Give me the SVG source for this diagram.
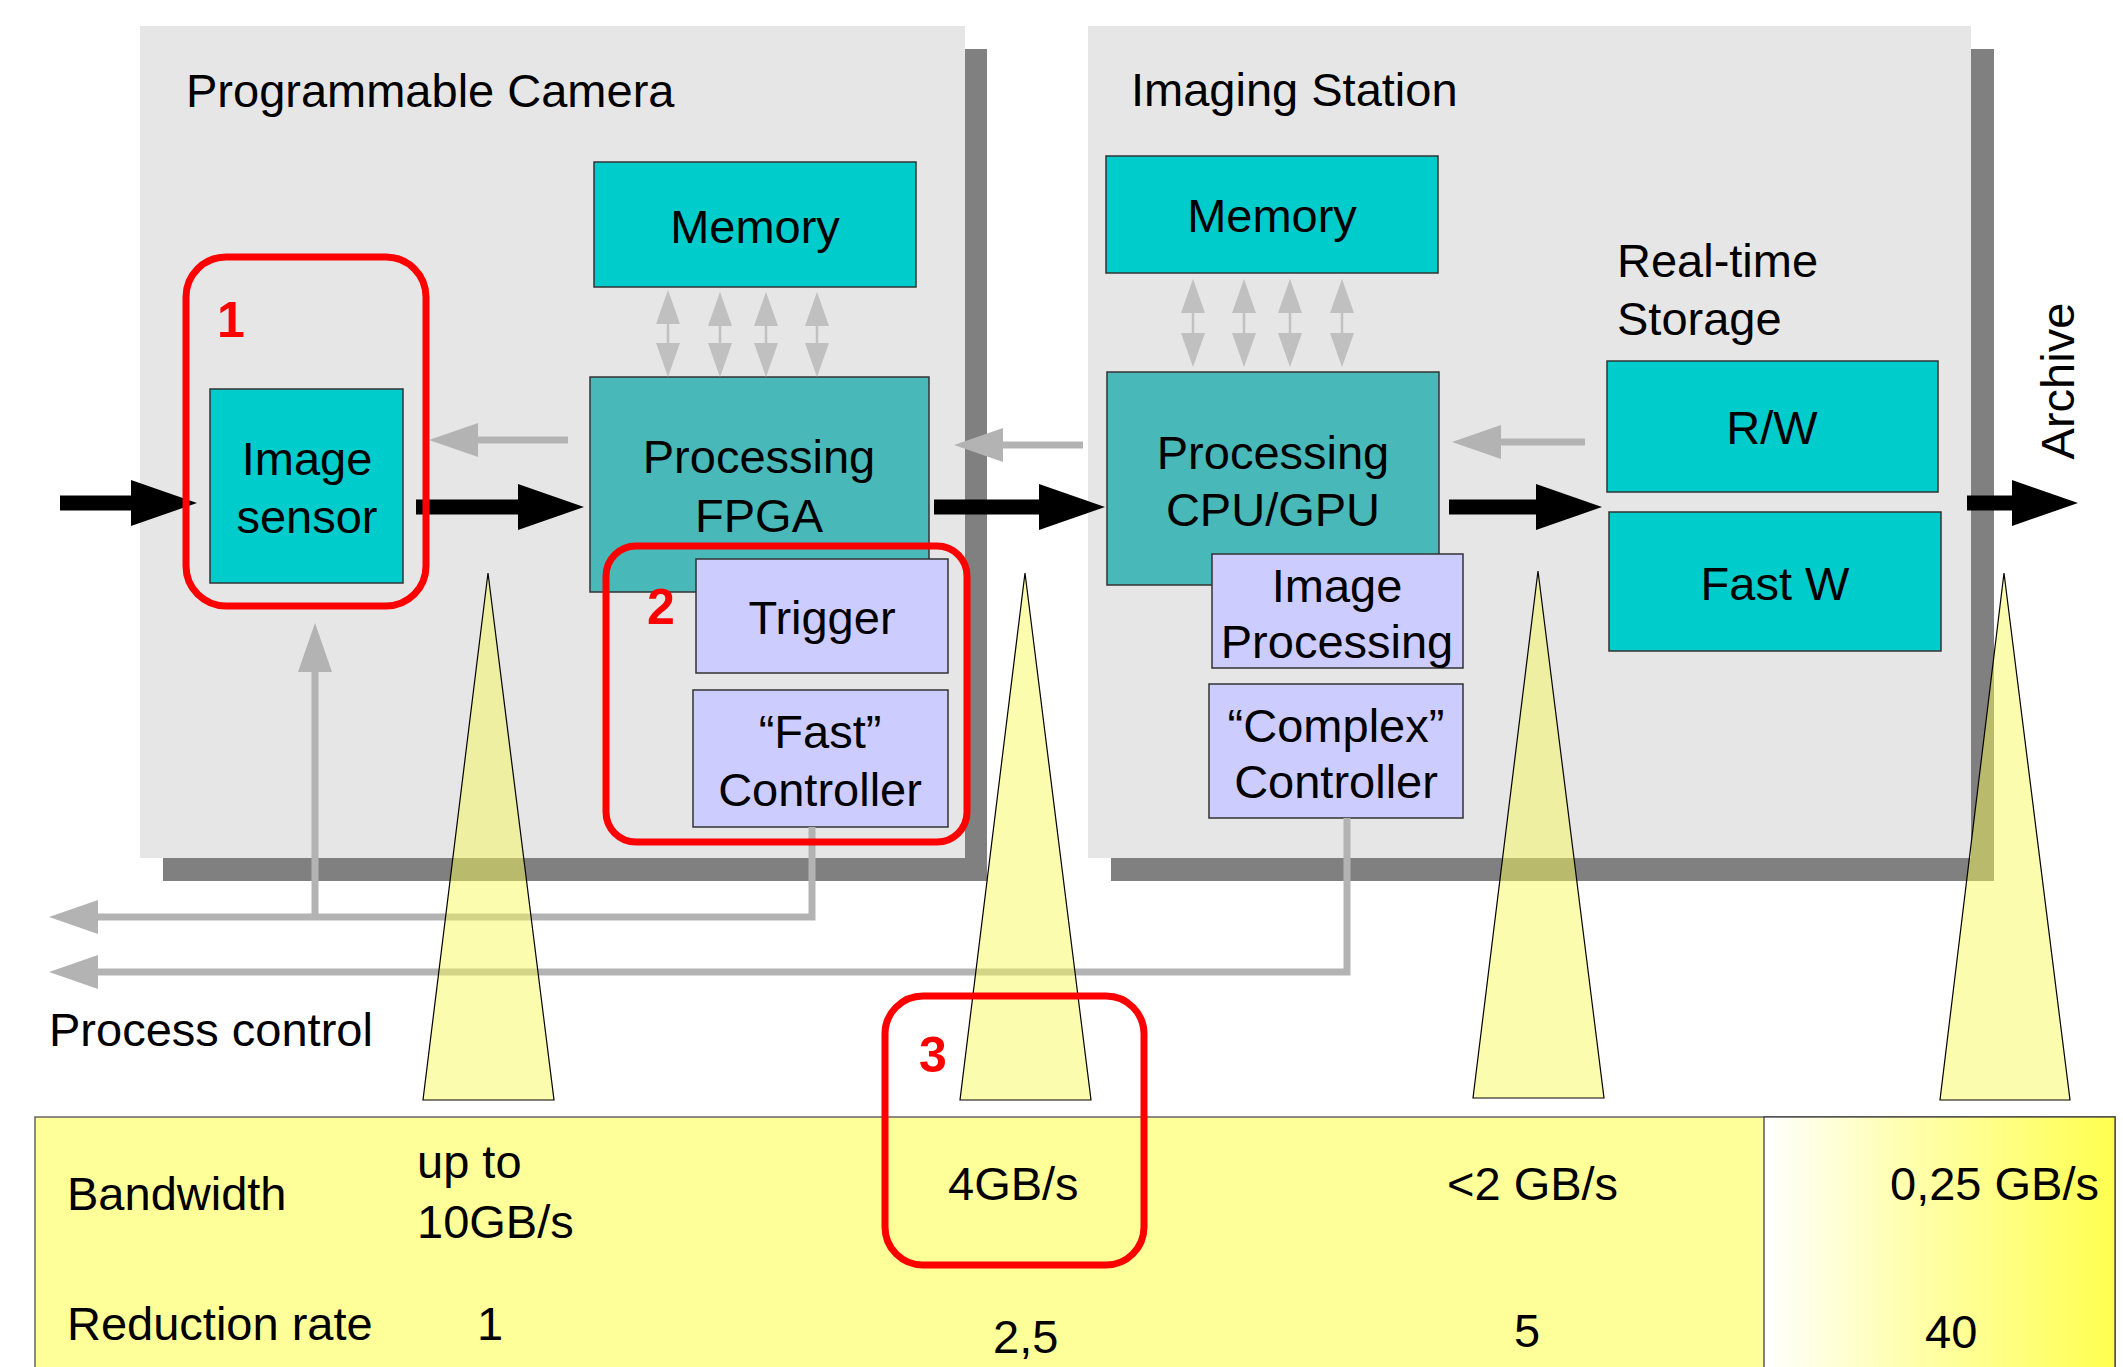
<svg xmlns="http://www.w3.org/2000/svg" width="2123" height="1367" viewBox="0 0 2123 1367">
<defs>
<style>
.t{font-family:"Liberation Sans",Arial,sans-serif;font-size:47px;fill:#000}
.c{text-anchor:middle}
.num{font-family:"Liberation Sans",Arial,sans-serif;font-weight:bold;font-size:50px;fill:#f00}
.cont{fill:#E6E6E6}
.shadow{fill:#808080}
.cyan{fill:#00CCCC;stroke:#333;stroke-width:1.5}
.teal{fill:#48B8B8;stroke:#333;stroke-width:1.5}
.lav{fill:#CCCCFF;stroke:#333;stroke-width:1.5}
.red{fill:none;stroke:#FF0000;stroke-width:7}
.tri{fill:#F9F956;fill-opacity:0.48;stroke:#000;stroke-width:1.2}
.blk{stroke:#000;stroke-width:15;fill:none;marker-end:url(#mblk)}
.gl{stroke:#B3B3B3;stroke-width:7;fill:none;stroke-linejoin:miter}
.ga{marker-end:url(#mgray)}
.bi{stroke:#C0C0C0;stroke-width:2.5;fill:none;marker-start:url(#mbi);marker-end:url(#mbi)}
</style>
<marker id="mblk" markerUnits="userSpaceOnUse" markerWidth="68" markerHeight="48" refX="0" refY="23" orient="auto" overflow="visible">
<path d="M0,0 L66,23 L0,46 z" fill="#000"/>
</marker>
<marker id="mgray" markerUnits="userSpaceOnUse" markerWidth="50" markerHeight="36" refX="0" refY="17" orient="auto" overflow="visible">
<path d="M0,0 L49,17 L0,34 z" fill="#B3B3B3"/>
</marker>
<marker id="mbi" markerUnits="userSpaceOnUse" markerWidth="36" markerHeight="26" refX="0" refY="12" orient="auto-start-reverse" overflow="visible">
<path d="M0,0 L34,12 L0,24 z" fill="#C0C0C0"/>
</marker>
<linearGradient id="gcell" x1="0" y1="0" x2="1" y2="0">
<stop offset="0" stop-color="#FFFFFF"/>
<stop offset="0.35" stop-color="#FFFFB8"/>
<stop offset="1" stop-color="#FFFF50"/>
</linearGradient>
</defs>

<rect width="2123" height="1367" fill="#FFFFFF"/>

<g id="programmable-camera">
<rect class="shadow" x="163" y="49" width="824" height="832"/>
<rect class="cont" x="140" y="26" width="825" height="832"/>
<text class="t" x="186" y="107">Programmable Camera</text>
</g>

<g id="imaging-station">
<rect class="shadow" x="1111" y="49" width="883" height="832"/>
<rect class="cont" x="1088" y="26" width="883" height="832"/>
<text class="t" x="1131" y="106">Imaging Station</text>
</g>

<g id="memory-camera">
<rect class="cyan" x="594" y="162" width="322" height="125"/>
<text class="t c" x="755" y="243">Memory</text>
</g>

<g id="image-sensor">
<rect class="cyan" x="210" y="389" width="193" height="194"/>
<text class="t c" x="307" y="475">Image</text>
<text class="t c" x="307" y="533">sensor</text>
</g>

<g id="processing-fpga">
<rect class="teal" x="590" y="377" width="339" height="215"/>
<text class="t c" x="759" y="473">Processing</text>
<text class="t c" x="759" y="532">FPGA</text>
</g>

<g id="trigger">
<rect class="lav" x="696" y="559" width="252" height="114"/>
<text class="t c" x="822" y="634">Trigger</text>
</g>

<g id="fast-controller">
<rect class="lav" x="693" y="690" width="255" height="137"/>
<text class="t c" x="820" y="748">“Fast”</text>
<text class="t c" x="820" y="806">Controller</text>
</g>

<g id="memory-station">
<rect class="cyan" x="1106" y="156" width="332" height="117"/>
<text class="t c" x="1272" y="232">Memory</text>
</g>

<g id="processing-cpu-gpu">
<rect class="teal" x="1107" y="372" width="332" height="213"/>
<text class="t c" x="1273" y="469">Processing</text>
<text class="t c" x="1273" y="526">CPU/GPU</text>
</g>

<g id="image-processing">
<rect class="lav" x="1212" y="554" width="251" height="114"/>
<text class="t c" x="1337" y="602">Image</text>
<text class="t c" x="1337" y="658">Processing</text>
</g>

<g id="complex-controller">
<rect class="lav" x="1209" y="684" width="254" height="134"/>
<text class="t c" x="1336" y="742">“Complex”</text>
<text class="t c" x="1336" y="798">Controller</text>
</g>

<g id="realtime-storage">
<text class="t" x="1617" y="277">Real-time</text>
<text class="t" x="1617" y="335">Storage</text>
<rect class="cyan" x="1607" y="361" width="331" height="131"/>
<text class="t c" x="1772" y="444">R/W</text>
<rect class="cyan" x="1609" y="512" width="332" height="139"/>
<text class="t c" x="1775" y="600">Fast W</text>
</g>

<g id="archive">
<text class="t c" x="2074" y="381" transform="rotate(-90 2074 381)">Archive</text>
</g>

<g id="process-control">
<text class="t" x="49" y="1046">Process control</text>
</g>

<g id="connectors">
<line class="blk" x1="60" y1="503" x2="131" y2="503"/>
<line class="blk" x1="416" y1="507" x2="518" y2="507"/>
<line class="blk" x1="934" y1="507" x2="1039" y2="507"/>
<line class="blk" x1="1449" y1="507" x2="1536" y2="507"/>
<line class="blk" x1="1967" y1="503" x2="2012" y2="503"/>

<line class="gl ga" x1="568" y1="440" x2="478" y2="440"/>
<line class="gl ga" x1="1083" y1="445" x2="1003" y2="445"/>
<line class="gl ga" x1="1585" y1="442" x2="1501" y2="442"/>

<line class="gl ga" x1="315" y1="918" x2="315" y2="672"/>
<path class="gl ga" d="M812,827 V917 H98"/>
<path class="gl ga" d="M1347,818 V972 H98"/>

<line class="bi" x1="668" y1="324" x2="668" y2="343"/>
<line class="bi" x1="720" y1="326" x2="720" y2="343"/>
<line class="bi" x1="766" y1="326" x2="766" y2="343"/>
<line class="bi" x1="817" y1="326" x2="817" y2="343"/>
<line class="bi" x1="1193" y1="313" x2="1193" y2="333"/>
<line class="bi" x1="1244" y1="313" x2="1244" y2="333"/>
<line class="bi" x1="1290" y1="313" x2="1290" y2="333"/>
<line class="bi" x1="1342" y1="313" x2="1342" y2="333"/>
</g>

<g id="table">
<rect x="35" y="1117" width="2080" height="280" fill="#FFFF99" stroke="#666" stroke-width="1.5"/>
<rect x="1764" y="1117" width="351" height="280" fill="url(#gcell)" stroke="#333" stroke-width="1.2"/>
<text class="t" x="67" y="1210">Bandwidth</text>
<text class="t" x="67" y="1340">Reduction rate</text>
<text class="t" x="417" y="1178">up to</text>
<text class="t" x="417" y="1238">10GB/s</text>
<text class="t" x="477" y="1340">1</text>
<text class="t" x="948" y="1200">4GB/s</text>
<text class="t" x="993" y="1353">2,5</text>
<text class="t" x="1447" y="1200">&lt;2 GB/s</text>
<text class="t" x="1514" y="1347">5</text>
<text class="t" x="1890" y="1200">0,25 GB/s</text>
<text class="t" x="1925" y="1348">40</text>
</g>

<g id="bandwidth-markers">
<polygon class="tri" points="488,573 554,1100 423,1100"/>
<polygon class="tri" points="1025,573 1091,1100 960,1100"/>
<polygon class="tri" points="1538,571 1604,1098 1473,1098"/>
<polygon class="tri" points="2004,573 2070,1100 1940,1100"/>
</g>

<g id="highlight-1">
<rect class="red" x="186" y="257" width="240" height="349" rx="40" ry="40"/>
<text class="num" x="217" y="337">1</text>
</g>
<g id="highlight-2">
<rect class="red" x="606" y="546" width="361" height="296" rx="30" ry="30"/>
<text class="num" x="647" y="624">2</text>
</g>
<g id="highlight-3">
<rect class="red" x="885" y="996" width="259" height="269" rx="38" ry="38"/>
<text class="num" x="919" y="1072">3</text>
</g>
</svg>
